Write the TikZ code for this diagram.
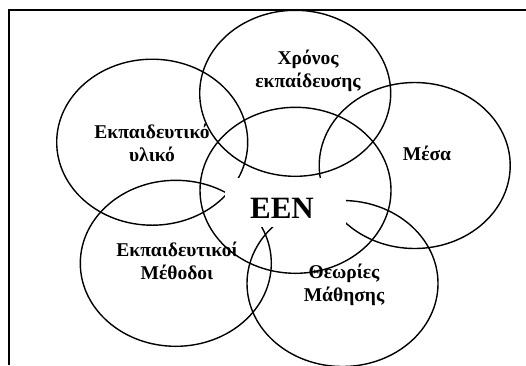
\documentclass[tikz,border=0pt]{standalone}
\usepackage{fontspec}
\setmainfont{Liberation Serif}
\usetikzlibrary{shapes.geometric}
\begin{document}
\begin{tikzpicture}[x=1pt,y=-1pt,
  ring/.style={draw=black,line width=1.4pt,ellipse,inner sep=0pt,
    minimum width=191pt,minimum height=166pt},
  lbl/.style={font=\bfseries\fontsize{19.5}{23}\selectfont,align=center,inner sep=0pt},
  frameline/.style={draw=black,line width=1.5pt}]
\useasboundingbox (0,0) rectangle (526,365);
% open frame: top and left edges only
\coordinate (tl) at (9,10);
\coordinate (tr) at (526,10);
\coordinate (bl) at (9,365);
\draw[frameline] (tr) -- (tl) -- (bl);
% the six overlapping ellipses
\node[ring] (time)   at (295.2,93.3)  {};
\node[ring] (mater)  at (152.2,142.2) {};
\node[ring] (media)  at (414.7,165.5) {};
\node[ring] (core)   at (295.5,190.3) {};
\node[ring] (method) at (175.8,263.3) {};
\node[ring] (theory) at (342.5,283.5) {};
% white patch behind the central label
\node[fill=white,inner sep=0pt,minimum width=121pt,minimum height=49pt] (mask) at (285.5,202.5) {};
\node[font=\bfseries\fontsize{31}{36}\selectfont,inner sep=0pt] (een) at (282,208) {EEN};
% labels
\node[lbl] (ltime)   at (308,71)  {Χρόνος\\εκπαίδευσης};
\node[lbl] (lmater)  at (152,143) {Εκπαιδευτικό\\υλικό};
\node[lbl] (lmedia)  at (427,153) {Μέσα};
\node[lbl] (lmethod) at (177,261) {Εκπαιδευτικοί\\Μέθοδοι};
\node[lbl] (ltheory) at (344,285) {Θεωρίες\\Μάθησης};
\end{tikzpicture}
\end{document}
